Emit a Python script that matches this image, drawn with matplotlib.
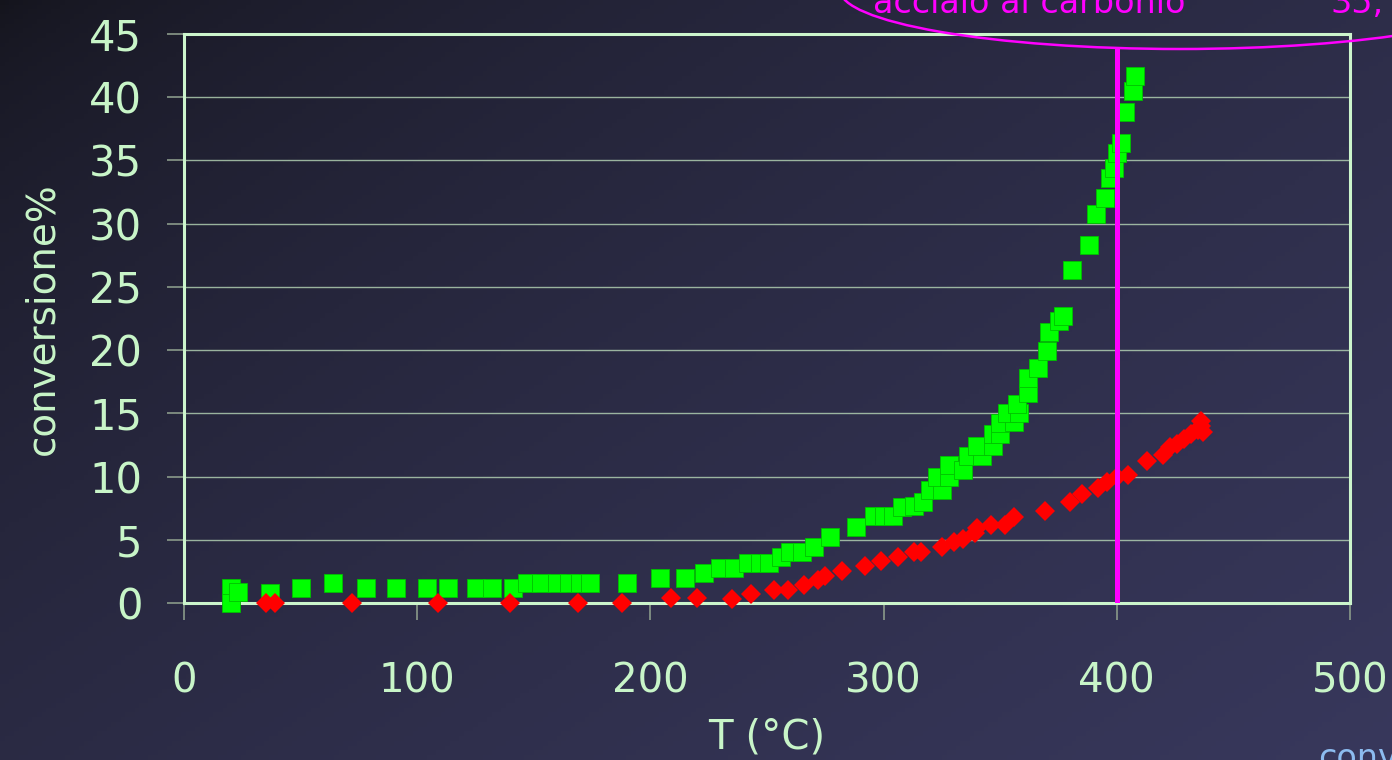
import numpy as np
import matplotlib
matplotlib.use("Agg")
import matplotlib.pyplot as plt
from matplotlib.patches import Ellipse

# conversion vs temperature, carbon steel reactor (green) and reference run (red)
green_T = [20, 20, 23, 37, 50, 64, 78, 91, 104, 113, 125, 132, 141, 147, 153, 160, 165,
           170, 174, 190, 204, 215, 223, 230, 236, 242, 247, 251, 256, 260, 265, 270, 277,
           288, 296, 300, 304, 308, 313, 317, 320, 325, 323, 328, 328, 334, 336, 342, 340,
           347, 347, 350, 350, 356, 353, 358, 357, 362, 362, 366, 370, 371, 375, 377, 381,
           388, 391, 395, 397, 399, 400, 402, 403.5, 407, 408]
green_conv = [1.2, 0.0, 0.9, 0.8, 1.2, 1.6, 1.2, 1.2, 1.2, 1.2, 1.2, 1.2, 1.2, 1.6, 1.6, 1.6, 1.6,
              1.6, 1.6, 1.6, 2.0, 2.0, 2.4, 2.8, 2.8, 3.2, 3.2, 3.2, 3.6, 4.0, 4.0, 4.4, 5.2,
              6.0, 6.9, 6.9, 6.9, 7.6, 7.7, 8.0, 8.9, 8.9, 10.0, 10.0, 10.9, 10.5, 11.6, 11.6, 12.4,
              12.4, 13.4, 13.4, 14.2, 14.3, 15.0, 15.0, 15.7, 16.6, 17.8, 18.6, 19.9, 21.4, 22.3, 22.7, 26.3,
              28.3, 30.8, 32.0, 33.6, 34.4, 35.6, 36.4, 38.8, 40.5, 41.7]

red_T = [35, 39, 72, 109, 140, 169, 188, 209, 220, 235, 243, 253, 259, 266, 272, 275, 282,
         292, 299, 306, 313, 316, 325, 330, 334, 339, 340, 346, 352, 356, 369, 380, 385,
         392, 396, 400, 405, 413, 420, 423, 426, 429, 432, 435, 436, 436, 437]
red_conv = [0, 0, 0, 0, 0, 0, 0, 0.4, 0.4, 0.3, 0.7, 1.0, 1.0, 1.4, 1.8, 2.1, 2.5,
            2.9, 3.3, 3.6, 4.0, 4.0, 4.4, 4.8, 5.1, 5.5, 5.9, 6.2, 6.2, 6.8, 7.3, 8.0, 8.6,
            9.1, 9.6, 10.0, 10.1, 11.2, 11.7, 12.3, 12.6, 13.0, 13.4, 13.7, 14.4, 14.0, 13.5]

T_marker = 400
x_ticks = [0, 100, 200, 300, 400, 500]
y_ticks = [0, 5, 10, 15, 20, 25, 30, 35, 40, 45]

W, H = 1392, 760
txt = "#c8f5c8"
magenta = "#ff00ff"

fig = plt.figure(figsize=(W / 100, H / 100), dpi=100)

# slide background: dark navy top-left fading to slate blue bottom-right
bg = fig.add_axes([0, 0, 1, 1], zorder=0)
xx, yy = np.meshgrid(np.linspace(0, 1, 300), np.linspace(0, 1, 160))
t = np.clip(0.55 * xx + 0.45 * yy, 0, 1) ** 0.6
c0 = np.array([20, 20, 28]) / 255
c1 = np.array([56, 56, 92]) / 255
grad = c0 + (c1 - c0) * t[..., None]
bg.imshow(grad, extent=[0, W, H, 0], aspect="auto")
bg.set_xlim(0, W)
bg.set_ylim(H, 0)
bg.axis("off")

ax = fig.add_axes([184 / W, 1 - 603 / H, (1350 - 184) / W, (603 - 34) / H], zorder=1)
ax.patch.set_alpha(0)

ax.plot(green_T, green_conv, "s", color="#00ff00", markersize=13.5,
        markeredgecolor="#00c000", markeredgewidth=0.6, clip_on=False, zorder=3)
ax.plot(red_T, red_conv, "D", color="#ff0000", markersize=10.5,
        markeredgecolor="#ff0000", markeredgewidth=0, clip_on=False, zorder=4)
ax.vlines(T_marker, 0, 43.9, color=magenta, lw=3.6, zorder=5)

ax.set_xlim(0, 500)
ax.set_ylim(0, 45)
ax.set_xticks(x_ticks)
ax.set_yticks(y_ticks)
ax.grid(axis="y", color="#b8d8b8", lw=1.0, alpha=0.8)
for s in ax.spines.values():
    s.set_color("#ccf5cc")
    s.set_linewidth(2.2)
ax.tick_params(axis="x", direction="out", length=12, width=1.2, color="#8a9a8a",
               pad=30, labelsize=29, labelcolor=txt)
ax.tick_params(axis="y", direction="out", length=12, width=1.2, color="#8a9a8a",
               pad=18, labelsize=30, labelcolor=txt)
ax.set_xlabel("T (°C)", fontsize=29, color=txt, labelpad=12)
ax.set_ylabel("conversione%", fontsize=28, color=txt, labelpad=20)

# annotation layer in pixel coordinates
ov = fig.add_axes([0, 0, 1, 1], zorder=2)
ov.set_xlim(0, W)
ov.set_ylim(H, 0)
ov.axis("off")
ov.add_patch(Ellipse((1180, -10), 680, 118, fill=False, edgecolor=magenta, lw=1.8))
ov.text(873, 13, "acciaio al carbonio", color=magenta, fontsize=24, va="baseline", ha="left")
ov.text(1330, 13, "35,", color=magenta, fontsize=24, va="baseline", ha="left")
ov.text(1318, 768, "conv", color="#8cbcf0", fontsize=24, va="baseline", ha="left")

fig.savefig("out.png", dpi=100)
